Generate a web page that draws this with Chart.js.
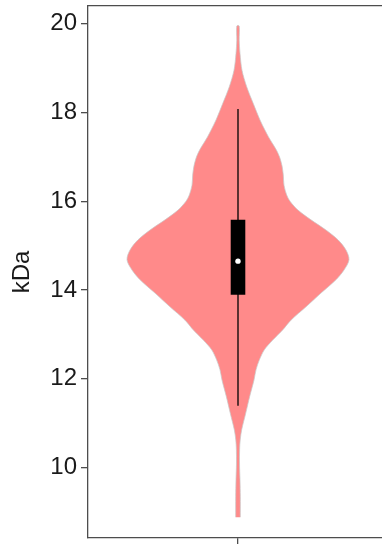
<!DOCTYPE html>
<html>
<head>
<meta charset="utf-8">
<script src="https://cdn.jsdelivr.net/npm/chart.js@4/dist/chart.umd.min.js"></script>
<style>
  html, body { margin: 0; padding: 0; background: #fff; overflow: hidden; }
  canvas { display: block; }
</style>
</head>
<body>
<canvas id="violin" width="382" height="544"></canvas>
<script>
// violin outline: kDa level and half width of the density at that level
const kdaLevels = [8.88, 9.34, 9.72, 10.1, 10.4, 10.62, 10.85, 11.22, 11.6, 11.97, 12.2, 12.42, 12.65, 12.87, 13.1, 13.32, 13.62, 13.93, 14.23, 14.45, 14.68, 14.9, 15.13, 15.35, 15.58, 15.8, 16.0, 16.14, 16.36, 16.59, 16.8, 17.0, 17.15, 17.3, 17.45, 17.6, 17.83, 18.2, 18.58, 18.95, 19.33, 19.63, 19.95];
const halfWidths = [2.3, 2.3, 2.0, 1.5, 1.6, 2.2, 3.7, 7.7, 11.7, 16, 18, 21.3, 26.3, 34.7, 44.7, 53, 68, 83, 98, 106, 111, 108, 100, 88, 73, 60, 52, 48.7, 46, 45.3, 44, 41.5, 38.5, 34.5, 30.5, 27, 22, 15.3, 8.7, 4, 2, 1.2, 1.2];

const whiskerRange = [11.39, 18.08];
const boxRange = [13.89, 15.58];
const medianKda = 14.65;
const yTicks = [10, 12, 14, 16, 18, 20];
const yLabel = 'kDa';

const axisColor = '#4d4d4d';
const textColor = '#1a1a1a';
const font = { family: '"Liberation Sans", Arial, sans-serif', size: 24 };

const rightSide = kdaLevels.map((v, i) => ({ x: halfWidths[i], y: v }));
const leftSide = kdaLevels.map((v, i) => ({ x: -halfWidths[i], y: v })).reverse();
const outline = rightSide.concat(leftSide);

function noPadding(s) {
  s.paddingTop = 0;
  s.paddingBottom = 0;
  s.paddingLeft = 0;
  s.paddingRight = 0;
}

new Chart(document.getElementById('violin'), {
  type: 'scatter',
  data: {
    datasets: [
      {
        data: [{ x: 0, y: medianKda }],
        pointRadius: 2.7,
        pointBackgroundColor: '#ffffff',
        pointBorderWidth: 0
      },
      {
        data: boxRange.map(v => ({ x: 0, y: v })),
        showLine: true,
        borderColor: '#000000',
        borderWidth: 14.6,
        borderCapStyle: 'butt',
        pointRadius: 0
      },
      {
        data: whiskerRange.map(v => ({ x: 0, y: v })),
        showLine: true,
        borderColor: '#000000',
        borderWidth: 1.3,
        pointRadius: 0
      },
      {
        data: outline,
        showLine: true,
        fill: 'shape',
        tension: 0.3,
        backgroundColor: '#ff8a8a',
        borderColor: 'rgba(200,200,200,0.9)',
        borderWidth: 0.8,
        pointRadius: 0
      }
    ]
  },
  options: {
    responsive: false,
    animation: false,
    devicePixelRatio: 1,
    layout: { padding: 0, autoPadding: false },
    plugins: { legend: { display: false }, tooltip: { enabled: false } },
    scales: {
      x: {
        type: 'linear',
        position: 'bottom',
        min: -150,
        max: 144,
        afterBuildTicks: s => { s.ticks = [{ value: 0 }]; },
        afterFit: s => { s.height = 6; noPadding(s); },
        grid: { drawOnChartArea: false, drawTicks: true, tickLength: 8, color: axisColor, lineWidth: 1.3 },
        border: { display: true, color: axisColor, width: 1.3 },
        ticks: { callback: () => '', font: font }
      },
      xTop: {
        type: 'linear',
        position: 'top',
        min: 0,
        max: 1,
        afterFit: s => { s.height = 6; noPadding(s); },
        grid: { display: false },
        border: { display: true, color: axisColor, width: 1.3 },
        ticks: { display: false }
      },
      y: {
        type: 'linear',
        min: 8.41,
        max: 20.4,
        afterBuildTicks: s => { s.ticks = yTicks.map(v => ({ value: v })); },
        afterFit: s => { s.width = 88; noPadding(s); },
        grid: { drawOnChartArea: false, drawTicks: true, tickLength: 7, color: axisColor, lineWidth: 1.3 },
        border: { display: true, color: axisColor, width: 1.3 },
        ticks: { color: textColor, font: font, padding: 4 },
        title: { display: true, text: yLabel, color: textColor, font: font, padding: { top: 8, bottom: 0 } }
      }
    }
  }
});
</script>
</body>
</html>
